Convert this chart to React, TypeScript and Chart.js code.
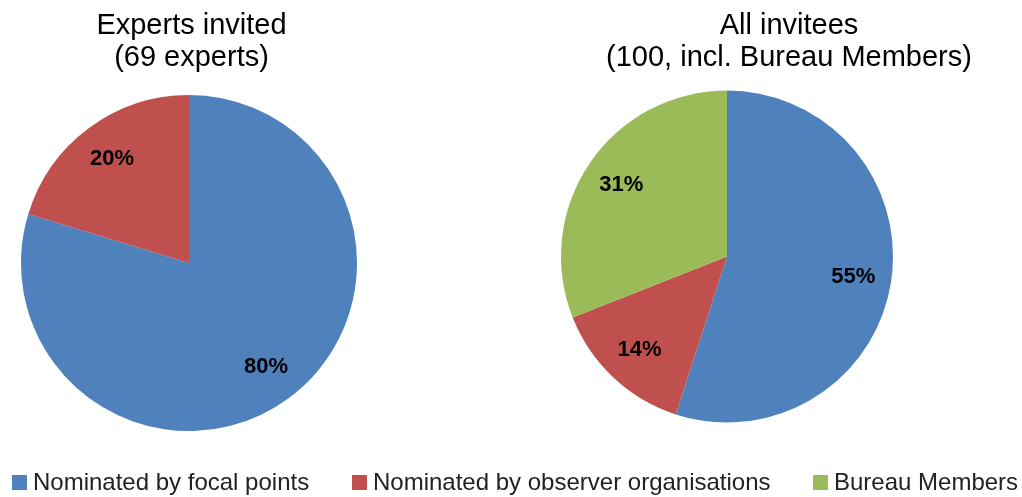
import React, { useEffect, useRef } from "react";
import { Chart, registerables } from "chart.js";

Chart.register(...registerables);

const categories = [
  "Nominated by focal points",
  "Nominated by observer organisations",
  "Bureau Members",
];
const expertsValues = [55, 14];
const allInviteesValues = [55, 14, 31];
const expertsTitle = ["Experts invited", "(69 experts)"];
const allTitle = ["All invitees", "(100, incl. Bureau Members)"];
const sliceColors = ["#4F81BD", "#C0504D", "#9BBB59"];

const FONT = "'Liberation Sans', Arial, sans-serif";

const pctLabels = {
  id: "pctLabels",
  afterDatasetsDraw(chart: any) {
    const ctx = chart.ctx;
    const meta = chart.getDatasetMeta(0);
    const data: number[] = chart.data.datasets[0].data;
    const total = data.reduce((a, b) => a + b, 0);
    ctx.save();
    ctx.font = `bold 22px ${FONT}`;
    ctx.fillStyle = "#000";
    ctx.textAlign = "center";
    ctx.textBaseline = "middle";
    meta.data.forEach((arc: any, i: number) => {
      const p = arc.getProps(["x", "y", "startAngle", "endAngle", "outerRadius"], true);
      const mid = (p.startAngle + p.endAngle) / 2;
      const r = p.outerRadius * 0.77;
      const txt = Math.round((data[i] / total) * 100) + "%";
      ctx.fillText(txt, p.x + Math.cos(mid) * r, p.y + Math.sin(mid) * r);
    });
    ctx.restore();
  },
};

function Pie({ values, radius, padding }: { values: number[]; radius: number; padding: any }) {
  const ref = useRef<HTMLCanvasElement>(null);
  useEffect(() => {
    if (!ref.current) return;
    const chart = new Chart(ref.current, {
      type: "pie",
      data: {
        labels: categories.slice(0, values.length),
        datasets: [
          {
            data: values,
            backgroundColor: sliceColors.slice(0, values.length),
            borderWidth: 0,
          },
        ],
      },
      options: {
        animation: false,
        responsive: true,
        maintainAspectRatio: false,
        radius: radius,
        layout: { padding },
        plugins: {
          legend: { display: false },
          tooltip: { enabled: false },
          title: { display: false },
        },
      } as any,
      plugins: [pctLabels],
    });
    return () => chart.destroy();
  }, []);
  return <canvas ref={ref} />;
}

const titleStyle = (left: number, width: number): React.CSSProperties => ({
  position: "absolute",
  left,
  top: 9,
  width,
  textAlign: "center",
  fontFamily: FONT,
  fontSize: 29,
  lineHeight: "31.6px",
  color: "#000",
  whiteSpace: "nowrap",
});

const legendPos = [12, 352, 813];

export default function App() {
  return (
    <div
      style={{
        position: "absolute",
        left: 0,
        top: 0,
        width: 1022,
        height: 497,
        background: "#fff",
        overflow: "hidden",
      }}
    >
      <div style={{ position: "absolute", left: 0, top: 0, width: 400, height: 497 }}>
        <Pie values={expertsValues} radius={168} padding={{ left: 0, right: 22, top: 29, bottom: 0 }} />
      </div>
      <div style={{ position: "absolute", left: 540, top: 0, width: 482, height: 497 }}>
        <Pie values={allInviteesValues} radius={166} padding={{ left: 0, right: 108, top: 16, bottom: 0 }} />
      </div>
      <div style={titleStyle(0, 383)}>
        {expertsTitle[0]}
        <br />
        {expertsTitle[1]}
      </div>
      <div style={titleStyle(556, 466)}>
        {allTitle[0]}
        <br />
        {allTitle[1]}
      </div>
      {categories.map((c, i) => (
        <div key={c}>
          <div
            style={{
              position: "absolute",
              left: legendPos[i],
              top: 475,
              width: 15,
              height: 15,
              background: sliceColors[i],
            }}
          />
          <div
            style={{
              position: "absolute",
              left: legendPos[i] + 21,
              top: 468,
              fontFamily: FONT,
              fontSize: 24,
              lineHeight: "27px",
              color: "#222",
              whiteSpace: "nowrap",
            }}
          >
            {c}
          </div>
        </div>
      ))}
    </div>
  );
}
